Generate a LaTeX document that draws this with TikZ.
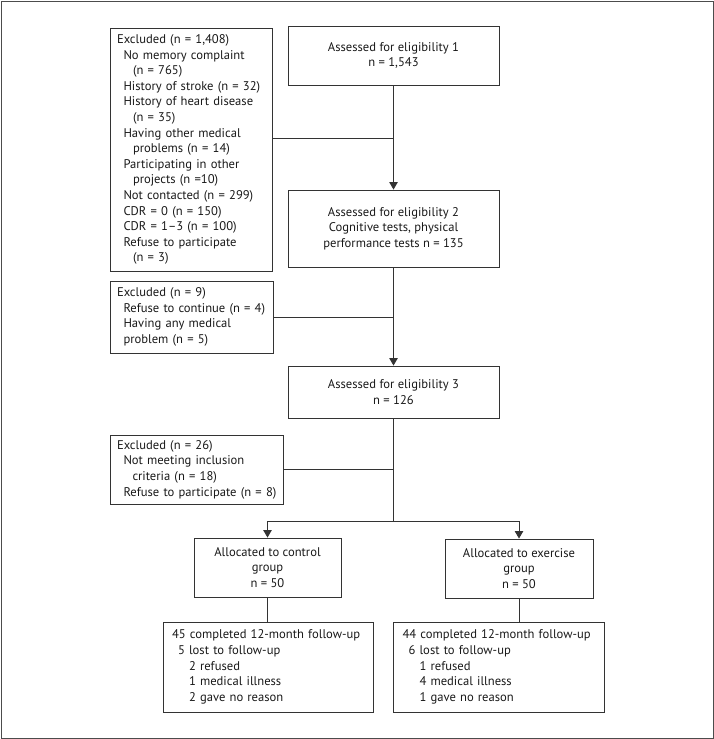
\documentclass[tikz,border=0pt]{standalone}
\usepackage{fontspec}
\setmainfont{PT Sans}
\usetikzlibrary{arrows.meta}
\begin{document}
\begin{tikzpicture}[x=1pt,y=-1pt,
  box/.style={draw=black!80, line width=0.9pt, inner ysep=0pt, text=black!90,
    font={\fontsize{12.6pt}{15.6pt}\selectfont}},
  lbox/.style={box, align=left, inner xsep=7pt},
  cbox/.style={box, align=center, inner xsep=2pt},
  link/.style={draw=black!80, line width=0.9pt},
  arr/.style={link, -{Triangle[width=8.5pt,length=7.5pt]}}]
\useasboundingbox (0,0) rectangle (714,739);
\draw[black!70, line width=0.6pt] (1,1) rectangle (713,738);
\newcommand{\ia}{\hspace*{6.5pt}}
\newcommand{\ib}{\hspace*{16pt}}
% boxes
\node[lbox, text width=148pt, minimum height=243pt] (A) at (191,149.5) {Excluded (n = 1,408)\\
\ia No memory complaint\\
\ib (n = 765)\\
\ia \mbox{History of stroke (n = 32)}\\
\ia History of heart disease\\
\ib (n = 35)\\
\ia Having other medical\\
\ib problems (n = 14)\\
\ia Participating in other\\
\ib projects (n =10)\\
\ia \mbox{Not contacted (n = 299)}\\
\ia CDR = 0 (n = 150)\\
\ia CDR = 1–3 (n = 100)\\
\ia Refuse to participate\\
\ib (n = 3)};
\node[cbox, minimum width=211pt, minimum height=59pt] (B) at (393.5,55.5) {Assessed for eligibility 1\\ n = 1,543};
\node[cbox, minimum width=211pt, minimum height=77pt] (C) at (393.5,228.5) {Assessed for eligibility 2\\ Cognitive tests, physical\\ performance tests n = 135};
\node[lbox, text width=149pt, minimum height=72pt] (D) at (191.5,317) {Excluded (n = 9)\\
\ia \mbox{Refuse to continue (n = 4)}\\
\ia Having any medical\\
\ia problem (n = 5)};
\node[cbox, minimum width=211pt, minimum height=52pt] (E) at (393.5,392) {Assessed for eligibility 3\\ n = 126};
\node[lbox, text width=159pt, minimum height=69pt] (F) at (196.5,469.5) {Excluded (n = 26)\\
\ia Not meeting inclusion\\
\hspace*{15.5pt}criteria (n = 18)\\
\ia \mbox{Refuse to participate (n = 8)}};
\node[cbox, minimum width=147pt, minimum height=59pt] (G) at (267.5,567.5) {Allocated to control\\ group\\ n = 50};
\node[cbox, minimum width=148pt, minimum height=59pt] (H) at (519,568.5) {Allocated to exercise\\ group\\ n = 50};
\node[lbox, inner xsep=9pt, text width=192pt, minimum height=90pt] (I) at (268,667) {\mbox{45 completed 12-month follow-up}\\
\hspace*{6pt}5 lost to follow-up\\
\hspace*{17pt}2 refused\\
\hspace*{17pt}1 medical illness\\
\hspace*{17pt}2 gave no reason};
\node[lbox, inner xsep=9.5pt, text width=192pt, minimum height=90pt] (J) at (498.5,667) {\mbox{44 completed 12-month follow-up}\\
\hspace*{6pt}6 lost to follow-up\\
\hspace*{17pt}1 refused\\
\hspace*{17pt}4 medical illness\\
\hspace*{17pt}1 gave no reason};
% connectors
\coordinate (j1) at (393.5,138);
\coordinate (br) at (393.5,521);
\draw[arr] (B.south) -- (C.north);
\draw[link] (A.east |- j1) -- (j1);
\draw[arr] (C.south) -- (E.north);
\draw[link] (D.east) -- (D.east -| C.south);
\draw[link] (E.south) -- (br);
\draw[link] (F.east) -- (F.east -| E.south);
\draw[arr] (br) -- (G.north |- br) -- (G.north);
\draw[arr] (br) -- (H.north |- br) -- (H.north);
\draw[link] (G.south) -- (G.south |- I.north);
\draw[link] (H.south) -- (H.south |- J.north);
\end{tikzpicture}
\end{document}
